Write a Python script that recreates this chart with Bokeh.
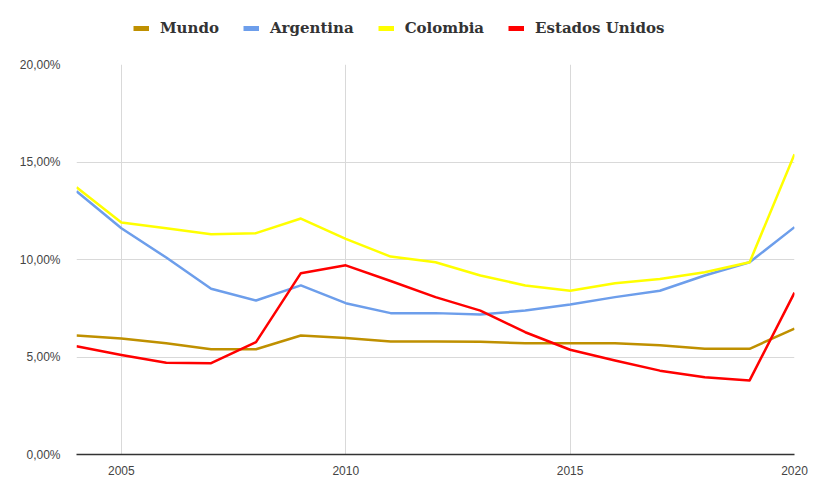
from bokeh.plotting import figure
from bokeh.layouts import column
from bokeh.models import (Legend, LegendItem, CustomJSTickFormatter, FixedTicker,
                          Range1d, ColumnDataSource)
from bokeh.embed import file_html
from bokeh.resources import INLINE

years = list(range(2004, 2021))
mundo = [6.1, 5.95, 5.7, 5.4, 5.4, 6.1, 5.98, 5.8, 5.8, 5.78, 5.7, 5.7, 5.7, 5.6, 5.42, 5.42, 6.46]
argentina = [13.5, 11.6, 10.1, 8.5, 7.9, 8.67, 7.76, 7.25, 7.25, 7.18, 7.38, 7.69, 8.07, 8.4, 9.18, 9.86, 11.66]
colombia = [13.7, 11.9, 11.6, 11.3, 11.35, 12.1, 11.06, 10.15, 9.86, 9.18, 8.67, 8.4, 8.78, 9.0, 9.35, 9.86, 15.4]
eeuu = [5.55, 5.1, 4.7, 4.68, 5.76, 9.3, 9.7, 8.9, 8.07, 7.38, 6.27, 5.37, 4.82, 4.3, 3.96, 3.8, 8.3]

series_names = ["Mundo", "Argentina", "Colombia", "Estados Unidos"]
series_values = [mundo, argentina, colombia, eeuu]
colors = ["#bf9000", "#6d9eeb", "#ffff00", "#ff0000"]

x_ticks = [2005, 2010, 2015, 2020]
y_ticks = [0, 5, 10, 15, 20]

# legend strip (its own small figure; the series drawn there fall outside its range)
lf = figure(width=813, height=40, output_backend="svg", toolbar_location=None,
            x_range=Range1d(0, 1), y_range=Range1d(0, 1),
            x_axis_type=None, y_axis_type=None,
            min_border_left=0, min_border_right=0, min_border_top=0, min_border_bottom=0)
lf.outline_line_color = None
lf.xgrid.visible = False
lf.ygrid.visible = False

p = figure(width=813, height=439, output_backend="svg", toolbar_location=None,
           x_range=Range1d(2004, 2020), y_range=Range1d(0, 20),
           min_border_left=76, min_border_right=19, min_border_top=24, min_border_bottom=25)
p.outline_line_color = None
p.background_fill_color = "white"

items = []
for name, vals, col in zip(series_names, series_values, colors):
    src = ColumnDataSource(dict(x=years, y=vals))
    p.line("x", "y", source=src, line_color=col, line_width=2.5, line_join="round")
    proxy = lf.line("x", "y", source=src, line_color=col, line_width=5, line_cap="butt")
    items.append(LegendItem(label=name, renderers=[proxy]))

p.xaxis.ticker = FixedTicker(ticks=x_ticks)
p.yaxis.ticker = FixedTicker(ticks=y_ticks)
p.yaxis.formatter = CustomJSTickFormatter(code="return tick.toFixed(2).replace('.', ',') + '%';")
p.xaxis.formatter = CustomJSTickFormatter(code="return tick.toFixed(0);")

for ax in (p.xaxis[0], p.yaxis[0]):
    ax.major_tick_line_color = None
    ax.minor_tick_line_color = None
    ax.major_label_text_font = "Liberation Sans"
    ax.major_label_text_font_size = "12px"
    ax.major_label_text_color = "#444444"
p.yaxis.axis_line_color = None
p.yaxis.major_label_standoff = 10
p.xaxis.axis_line_color = "#333333"
p.xaxis.axis_line_width = 1.5
p.xaxis.major_label_standoff = 5

p.xgrid.grid_line_color = "#d9d9d9"
p.ygrid.grid_line_color = "#d9d9d9"

legend = Legend(items=items, orientation="horizontal", location=(57, 3),
                label_text_font="DejaVu Serif", label_text_font_style="bold",
                label_text_font_size="15px", label_text_color="#333333",
                glyph_width=16, glyph_height=14, label_standoff=11, spacing=24,
                padding=0, margin=0, border_line_alpha=0, background_fill_alpha=0)
lf.add_layout(legend, "center")

layout = column(lf, p, spacing=0)
open("out.html", "w").write(file_html(layout, INLINE))
